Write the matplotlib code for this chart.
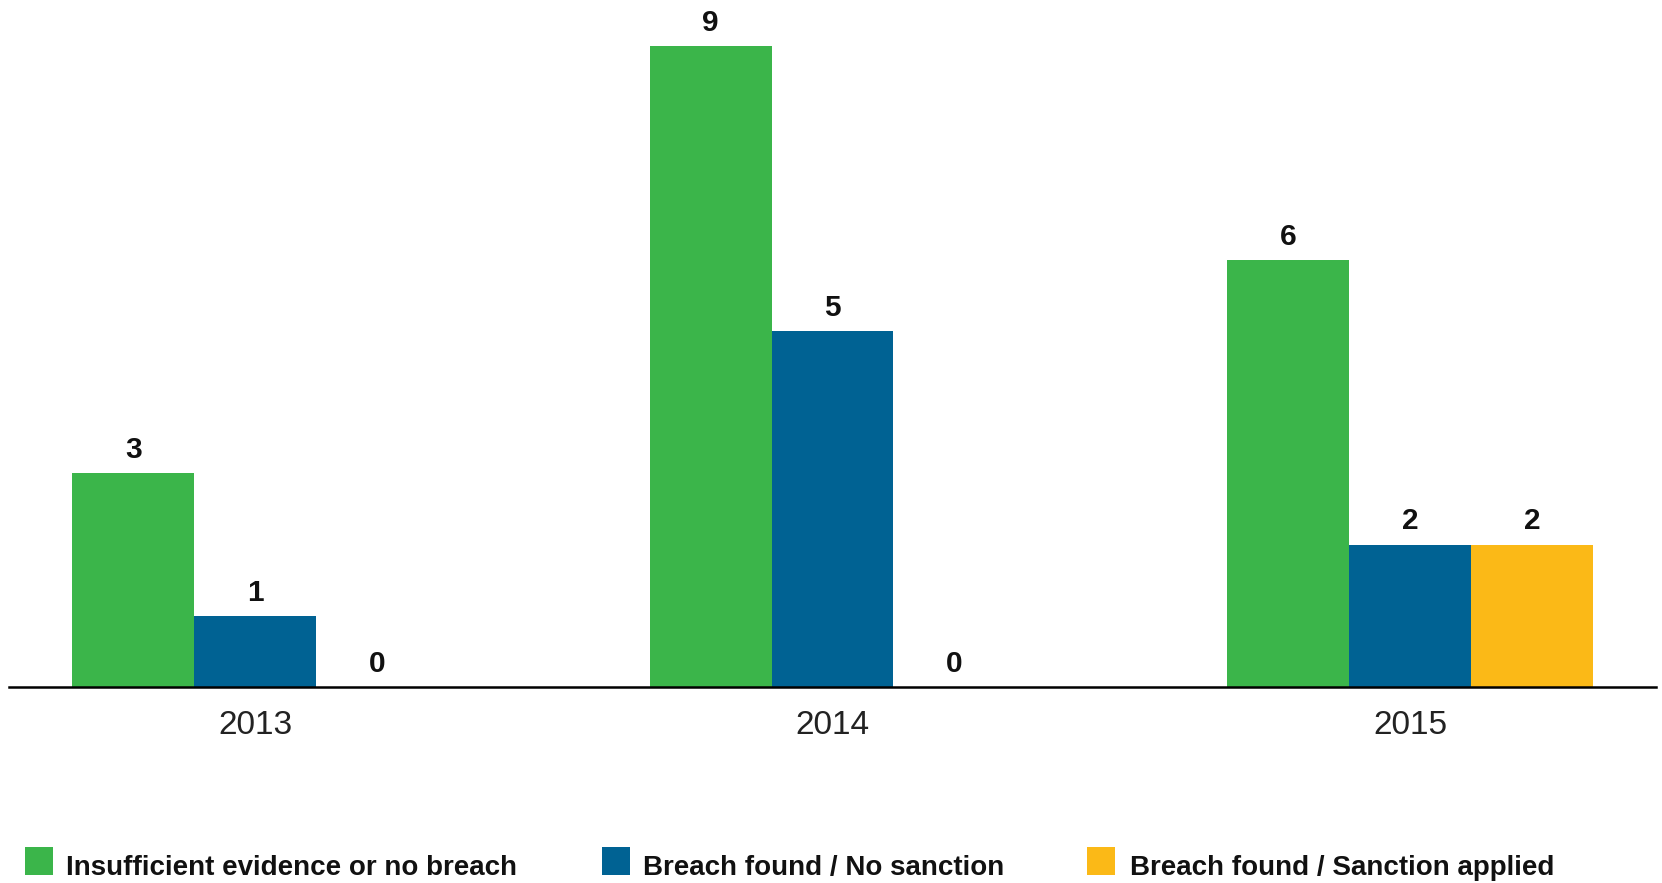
import matplotlib
matplotlib.use("Agg")
import matplotlib.pyplot as plt
from matplotlib.patches import Rectangle
import numpy as np

years = ["2013", "2014", "2015"]
series_names = ["Insufficient evidence or no breach", "Breach found / No sanction", "Breach found / Sanction applied"]
insufficient = [3, 9, 6]
no_sanction = [1, 5, 2]
sanction = [0, 0, 2]
series_values = [insufficient, no_sanction, sanction]
colors = ["#3BB54A", "#006293", "#FBB917"]

font = ["Liberation Sans"]

W, H = 1662, 883
fig = plt.figure(figsize=(W / 100, H / 100), dpi=100)
ax_left, ax_right, ax_base, ax_top = 8.5, 1656, 687, 0
ax = fig.add_axes([ax_left / W, (H - ax_base) / H, (ax_right - ax_left) / W, (ax_base - ax_top) / H])

x = np.arange(len(years))
bw = 0.211
offsets = [-bw, 0, bw]
for vals, off, c in zip(series_values, offsets, colors):
    bars = ax.bar(x + off, vals, width=bw, color=c, linewidth=0, zorder=2)
    for b, v in zip(bars, vals):
        ax.annotate(str(v), (b.get_x() + b.get_width() / 2, v), xytext=(0, 11),
                    textcoords="offset points", ha="center", va="baseline",
                    fontsize=21.5, fontweight="bold", family=font, color="#111111")

ax.set_xlim(-0.427, 2.426)
ax.set_ylim(0, 687 / 71.2)
ax.set_xticks(x)
ax.set_xticklabels(years, fontsize=24, family=font, color="#222222")
ax.tick_params(axis="x", length=0, pad=16.5)
ax.set_yticks([])
for s in ["top", "right", "left"]:
    ax.spines[s].set_visible(False)
ax.spines["bottom"].set_linewidth(1.8)
ax.spines["bottom"].set_color("black")
ax.patch.set_alpha(0)

# legend
sq_x = [25, 602, 1087]
txt_x = [66, 643, 1130]
for i, name in enumerate(series_names):
    fig.patches.append(Rectangle((sq_x[i] / W, (H - 875) / H), 28 / W, 28 / H,
                                 transform=fig.transFigure, color=colors[i], linewidth=0))
    fig.text(txt_x[i] / W, (H - 875) / H, name, ha="left", va="baseline",
             fontsize=20, fontweight="bold", family=font, color="#111111")

fig.savefig("out.png", dpi=100)
